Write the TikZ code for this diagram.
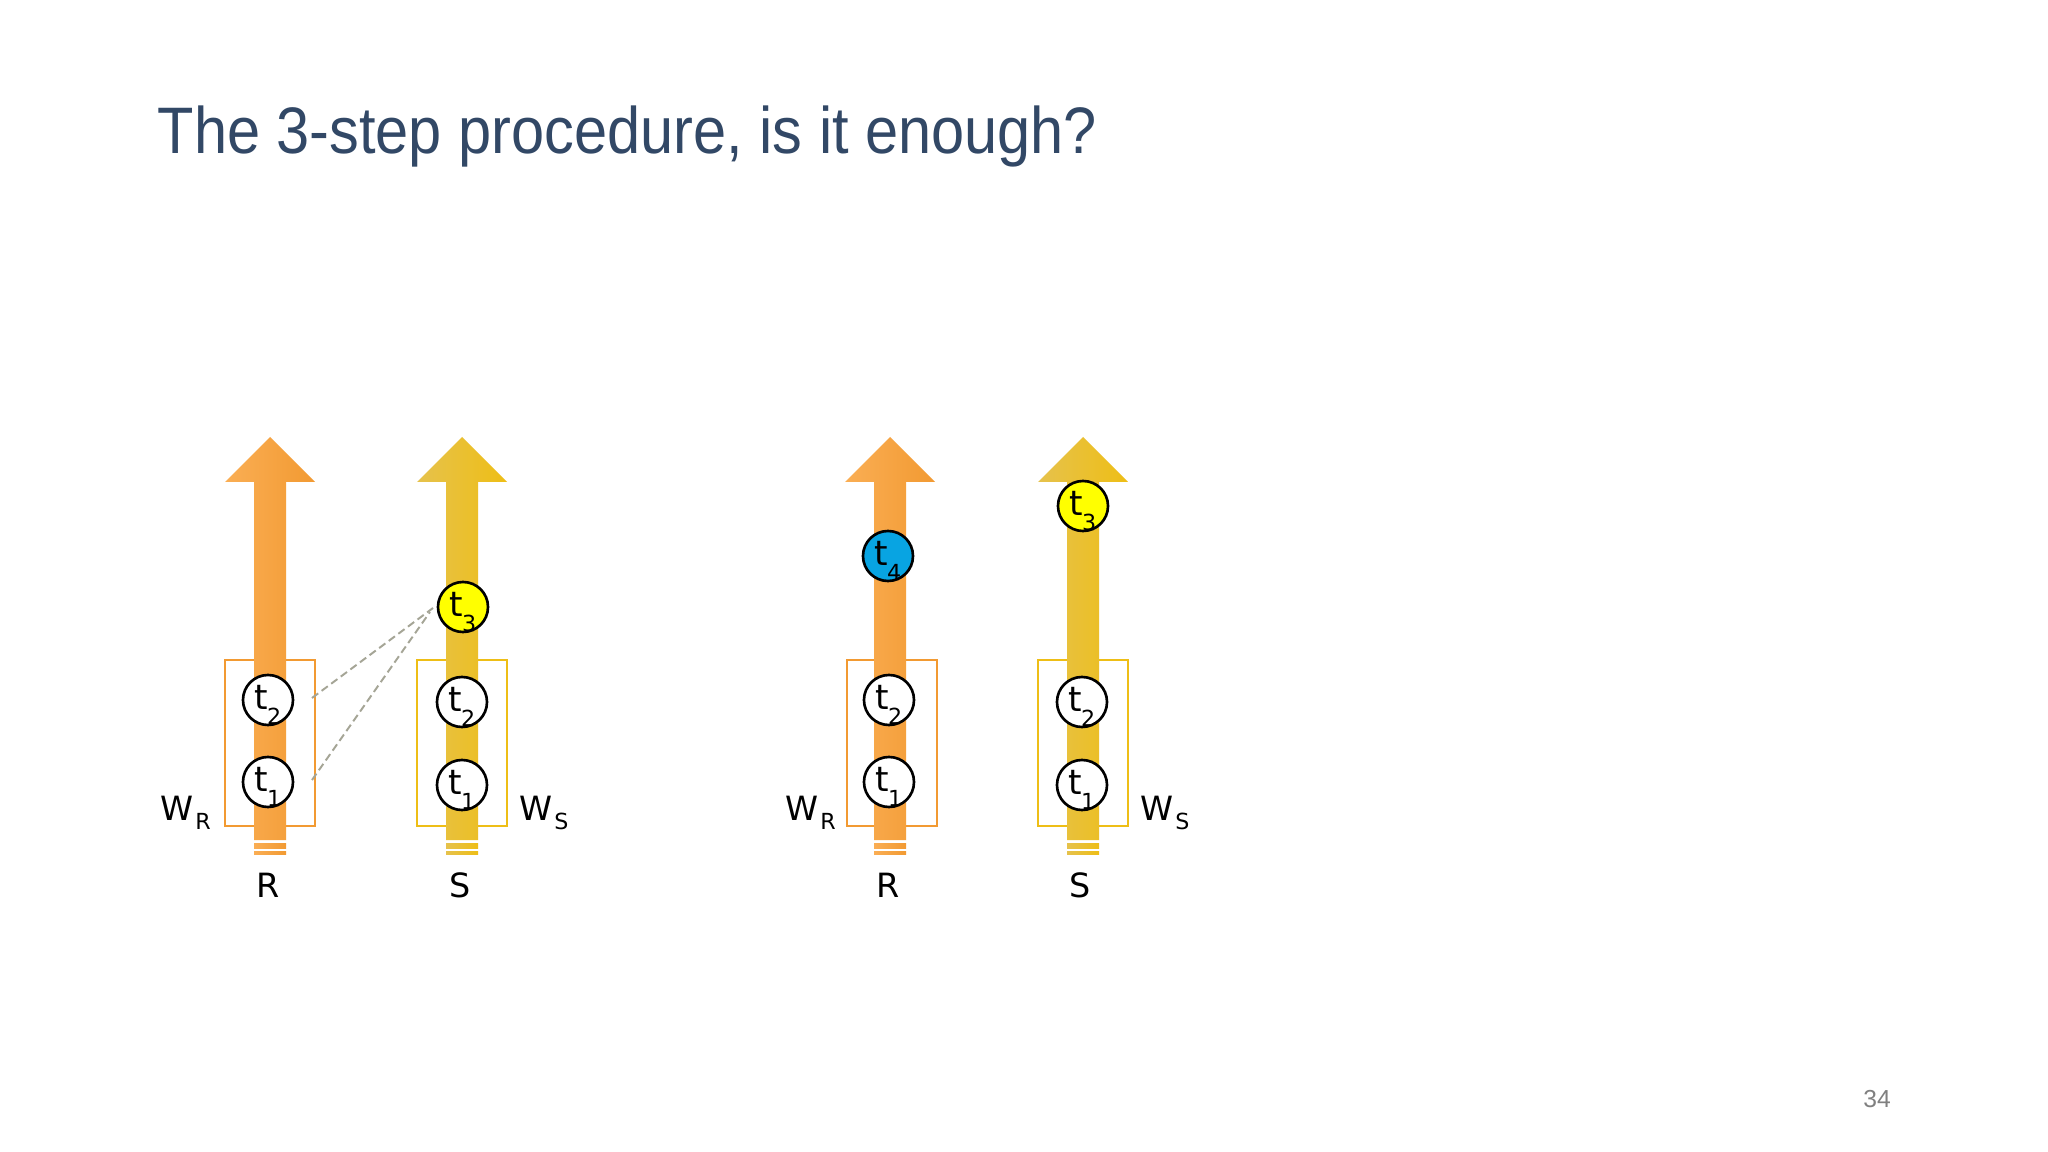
\documentclass[tikz,border=0pt]{standalone}
\usepackage{fontspec}
\setmainfont{DejaVu Sans}
\newfontfamily\titlefont{Liberation Sans}
\usepackage{xcolor}
\usetikzlibrary{arrows.meta}

\definecolor{rlight}{RGB}{250,174,84}
\definecolor{rdark}{RGB}{242,154,50}
\definecolor{slight}{RGB}{230,194,76}
\definecolor{sdark}{RGB}{238,190,22}
\definecolor{tyellow}{RGB}{255,255,0}
\definecolor{tblue}{RGB}{8,164,226}
\definecolor{titleblue}{RGB}{50,72,102}
\definecolor{linkgray}{RGB}{165,165,150}

\newcommand{\tsub}[1]{t\kern-0.03em\smash{\raisebox{-0.75ex}{\fontsize{6.3}{7}\selectfont #1}}}
\newcommand{\wsub}[1]{W\kern0.05em\raisebox{-0.5ex}{\fontsize{6.3}{7}\selectfont #1}}
\newcommand{\streamarrow}[3]{%
  \shade[left color=#2, right color=#3] (#1-16,840) -- (#1-16,482) -- (#1-45,482)
    -- (#1,437) -- (#1+45,482) -- (#1+16,482) -- (#1+16,840) -- cycle;
  \shade[left color=#2, right color=#3] (#1-16,843) rectangle (#1+16,848);
  \shade[left color=#2, right color=#3] (#1-16,851) rectangle (#1+16,854);
}

\tikzset{
  tup/.style={circle, draw=black, line width=0.75pt, fill=white,
    minimum size=0.5cm, inner sep=0pt, text depth=1.2pt,
    font=\fontsize{9.8}{10}\selectfont},
  lbl/.style={font=\fontsize{9.5}{11}\selectfont, inner sep=0pt},
  link/.style={linkgray, line width=0.55pt, dash pattern=on 2.2pt off 1.2pt},
}

\begin{document}
\begin{tikzpicture}[x=0.01cm, y=-0.01cm]
  \fill[white] (0,0) rectangle (2048,1152);
  \useasboundingbox (0,0) rectangle (2048,1152);

  \node[anchor=base west, inner sep=0pt, text=titleblue, xscale=0.905,
    font=\titlefont\fontsize{18.7}{22}\selectfont] (title) at (157,154)
    {The 3-step procedure, is it enough?};

  % windows
  \draw[rdark, line width=0.55pt] (225,660) rectangle (315,826);
  \draw[sdark, line width=0.55pt] (417,660) rectangle (507,826);
  \draw[rdark, line width=0.55pt] (847,660) rectangle (937,826);
  \draw[sdark, line width=0.55pt] (1038,660) rectangle (1128,826);

  % streams
  \streamarrow{270}{rlight}{rdark}
  \streamarrow{462}{slight}{sdark}
  \streamarrow{890}{rlight}{rdark}
  \streamarrow{1083}{slight}{sdark}

  % left picture
  \node[tup] (aR2) at (268,700) {\tsub{2}};
  \node[tup] (aR1) at (268,782) {\tsub{1}};
  \node[tup] (aS2) at (462,702) {\tsub{2}};
  \node[tup] (aS1) at (462,785) {\tsub{1}};
  \node[tup, fill=tyellow] (aS3) at (463,607) {\tsub{3}};
  \coordinate (aR2out) at (312,698);
  \coordinate (aR1out) at (312,780);
  \coordinate (aS3in) at (433,608);
  \coordinate (aS3in2) at (430,612);
  \draw[link] (aR2out) -- (aS3in);
  \draw[link] (aR1out) -- (aS3in2);

  \node[lbl, anchor=base west] (aWR) at (160,820) {\wsub{R}};
  \node[lbl, anchor=base west] (aWS) at (519,820) {\wsub{S}};
  \node[lbl, anchor=base] (aR) at (268,897) {R};
  \node[lbl, anchor=base] (aS) at (460,897) {S};

  % right picture
  \node[tup] (bR2) at (889,700) {\tsub{2}};
  \node[tup] (bR1) at (889,782) {\tsub{1}};
  \node[tup, fill=tblue] (bR4) at (888,556) {\tsub{4}};
  \node[tup] (bS2) at (1082,702) {\tsub{2}};
  \node[tup] (bS1) at (1082,785) {\tsub{1}};
  \node[tup, fill=tyellow] (bS3) at (1083,506) {\tsub{3}};

  \node[lbl, anchor=base west] (bWR) at (785,820) {\wsub{R}};
  \node[lbl, anchor=base west] (bWS) at (1140,820) {\wsub{S}};
  \node[lbl, anchor=base] (bR) at (888,897) {R};
  \node[lbl, anchor=base] (bS) at (1080,897) {S};

  \node[anchor=base, inner sep=0pt, text=black!50,
    font=\titlefont\fontsize{7}{8}\selectfont] (page) at (1877,1107) {34};
\end{tikzpicture}
\end{document}
